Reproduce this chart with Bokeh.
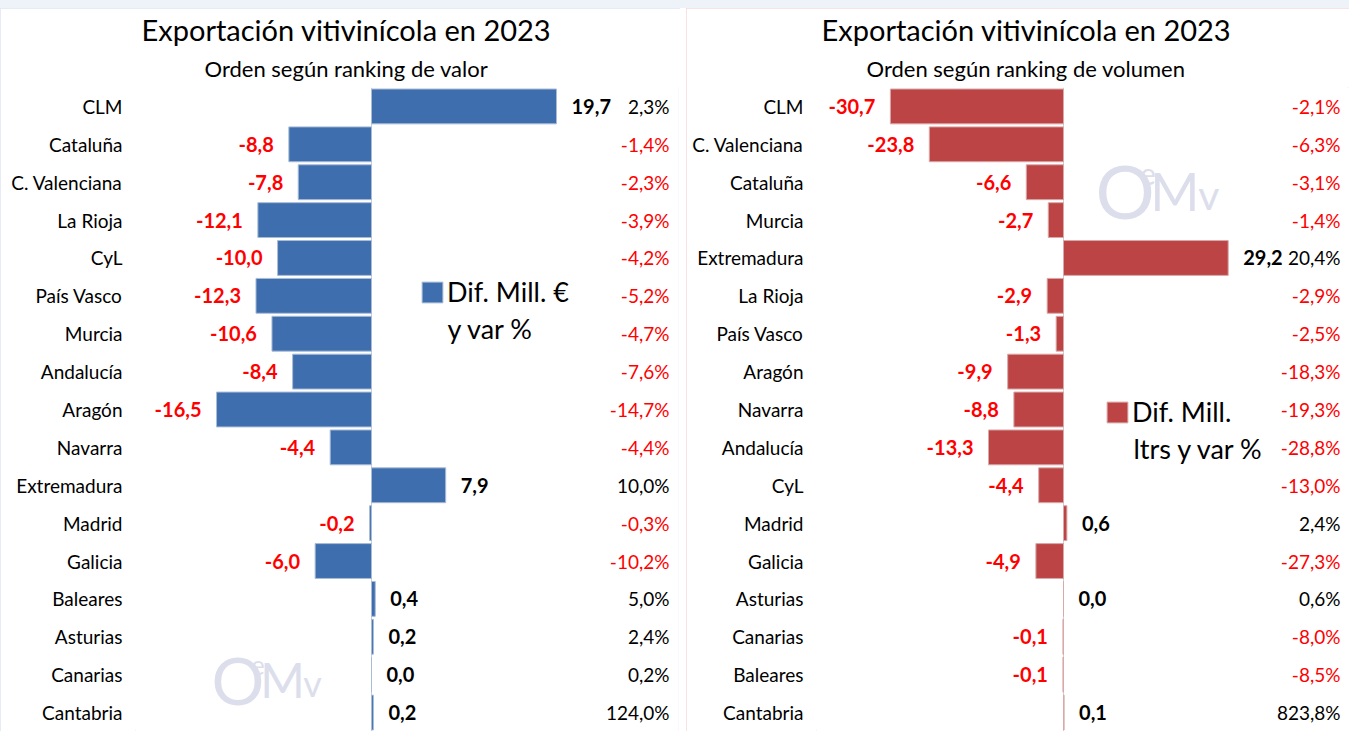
from bokeh.plotting import figure
from bokeh.models import ColumnDataSource, Span, Legend, LegendItem, Label, Title, Spacer
from bokeh.layouts import row, column
from bokeh.embed import file_html
from bokeh.resources import INLINE
from bokeh.core.properties import value

FONT = "Lato"

# ---- data: ranking by value (Mill. EUR) ----
cats_valor = ["CLM", "Cataluña", "C. Valenciana", "La Rioja", "CyL", "País Vasco",
              "Murcia", "Andalucía", "Aragón", "Navarra", "Extremadura", "Madrid",
              "Galicia", "Baleares", "Asturias", "Canarias", "Cantabria"]
dif_valor = [19.7, -8.8, -7.8, -12.1, -10.0, -12.3, -10.6, -8.4, -16.5, -4.4,
             7.9, -0.2, -6.0, 0.4, 0.2, 0.0, 0.2]
var_valor = [2.3, -1.4, -2.3, -3.9, -4.2, -5.2, -4.7, -7.6, -14.7, -4.4,
             10.0, -0.3, -10.2, 5.0, 2.4, 0.2, 124.0]

# ---- data: ranking by volume (Mill. litres) ----
cats_vol = ["CLM", "C. Valenciana", "Cataluña", "Murcia", "Extremadura", "La Rioja",
            "País Vasco", "Aragón", "Navarra", "Andalucía", "CyL", "Madrid",
            "Galicia", "Asturias", "Canarias", "Baleares", "Cantabria"]
dif_vol = [-30.7, -23.8, -6.6, -2.7, 29.2, -2.9, -1.3, -9.9, -8.8, -13.3,
           -4.4, 0.6, -4.9, 0.0, -0.1, -0.1, 0.1]
var_vol = [-2.1, -6.3, -3.1, -1.4, 20.4, -2.9, -2.5, -18.3, -19.3, -28.8,
           -13.0, 2.4, -27.3, 0.6, -8.0, -8.5, 823.8]

TITLE = "Exportación vitivinícola en 2023"
SUB_VALOR = "Orden según ranking de valor"
SUB_VOL = "Orden según ranking de volumen"


def fmt(v):
    return f"{v:.1f}".replace(".", ",")


def panel(cats, dif, var, subtitle, fill, edge, fig_w, mb_left, mb_right,
          x_start, x_end, title_offsets, legend_lines, legend_xy, line2_xy,
          logo_xy, S, border_color):
    p = figure(width=fig_w, height=723, y_range=list(reversed(cats)),
               x_range=(x_start, x_end), output_backend="svg",
               toolbar_location=None, x_axis_location=None,
               min_border_left=mb_left, min_border_right=mb_right,
               min_border_top=79, min_border_bottom=0,
               background_fill_color="white", border_fill_color="white",
               outline_line_color=None,
               styles={"outline": f"2px solid {border_color}",
                       "outline-offset": "-2px"})
    p.add_layout(Title(text=subtitle, align="left", text_font=FONT,
                       text_font_size="22px", text_font_style="normal",
                       text_color="black", standoff=12, offset=title_offsets[1]), "above")
    p.add_layout(Title(text=TITLE, align="left", text_font=FONT,
                       text_font_size="29px", text_font_style="normal",
                       text_color="black", standoff=0, offset=title_offsets[0]), "above")

    p.xgrid.visible = False
    p.ygrid.visible = False
    ax = p.yaxis[0]
    ax.axis_line_color = None
    ax.major_tick_line_color = None
    ax.minor_tick_line_color = None
    ax.major_label_standoff = 7
    ax.major_label_text_font = FONT
    ax.major_label_text_font_size = "19px"
    ax.major_label_text_color = "black"

    p.add_layout(Span(location=0, dimension="height", line_color="#c9d1db",
                      line_width=1, level="underlay"))

    src = ColumnDataSource(dict(cat=cats, dif=dif))
    bars = p.hbar(y="cat", left=0, right="dif", height=0.92, source=src,
                  fill_color=fill, line_color=edge, line_width=1)

    pos = [i for i, v in enumerate(dif) if v >= 0]
    neg = [i for i, v in enumerate(dif) if v < 0]
    for idx, align, off, col in ((pos, "left", 15, "black"), (neg, "right", -15, "#ff0000")):
        s = ColumnDataSource(dict(x=[dif[i] for i in idx], y=[cats[i] for i in idx],
                                  t=[fmt(dif[i]) for i in idx]))
        p.text(x="x", y="y", text="t", source=s, text_align=align, x_offset=off,
               text_baseline="middle", text_font=value(FONT), text_font_style="bold",
               text_font_size="20px", text_color=col)

    # percentage column, right-aligned near the frame's right edge
    psrc = ColumnDataSource(dict(x=[x_end] * len(cats), y=cats,
                                 t=[fmt(v) + "%" for v in var],
                                 c=["black" if v >= 0 else "#ff0000" for v in var]))
    p.text(x="x", y="y", text="t", source=psrc, text_align="right", x_offset=-9,
           text_baseline="middle", text_font=value(FONT), text_font_size="19px",
           text_color="c")

    legend = Legend(items=[LegendItem(label=legend_lines[0], renderers=[bars])],
                    location=legend_xy, border_line_color=None,
                    background_fill_alpha=0, padding=0, margin=0,
                    glyph_width=26, glyph_height=26, label_standoff=2,
                    label_height=26, label_text_font=FONT,
                    label_text_font_size="27px", label_text_color="black")
    p.add_layout(legend)
    p.add_layout(Label(x=line2_xy[0], y=line2_xy[1], x_units="screen", y_units="screen",
                       text=legend_lines[1], text_font=FONT, text_font_size="27px",
                       text_baseline="middle", text_color="black"))

    # watermark logo (O^e M v)
    lx, ly = logo_xy
    wm = "#dcdeec"
    parts = [("O", 0.0, 0.0, 1.0), ("e", 0.60, 0.22, 0.40),
             ("M", 0.74, 0.0, 0.72), ("v", 1.39, -0.06, 0.55)]
    for txt, dx, dy, fs in parts:
        p.add_layout(Label(x=lx + dx * S, y=ly + dy * S, x_units="screen", y_units="screen",
                           text=txt, text_font=FONT, text_font_size=f"{fs*S:.0f}px",
                           text_color=wm, text_baseline="middle"))
    return p


# left panel: page x 0..680, frame 135..678, zero at 371 (9.39 px/unit)
left = panel(cats_valor, dif_valor, var_valor, SUB_VALOR, "#3e6eae", "#a9bcd6",
             680, 135, 2, -25.13, 32.69, (6, 69),
             ("Dif. Mill. €", "y var %"), (284, 423), (312, 403),
             (76, 52), 66, "#dde6f2")
# right panel: page x 686..1349, frame 816..1349, zero at 1063 (5.64 px/unit)
right = panel(cats_vol, dif_vol, var_vol, SUB_VOL, "#bd4444", "#d8a9a9",
              663, 130, 0, -43.8, 50.71, (5, 50),
              ("Dif. Mill.", "ltrs y var %"), (288, 303), (317, 283),
              (279, 541), 74, "#f3dada")

top_strip = Spacer(width=1349, height=8, styles={"background-color": "#eef3f9"})
layout = column(top_strip, row(left, Spacer(width=6, height=723), right))
open("out.html", "w").write(file_html(layout, INLINE))
